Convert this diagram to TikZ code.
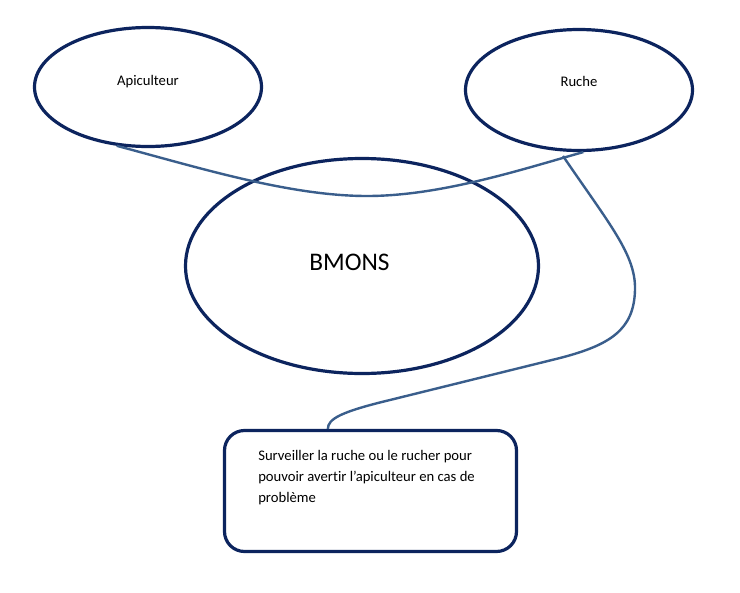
\documentclass[tikz,border=0pt]{standalone}
\usepackage{fontspec}
\setmainfont{Carlito}[Ligatures=NoCommon]
\usetikzlibrary{shapes, calc}

\definecolor{ovalblue}{RGB}{12,36,94}
\definecolor{linkblue}{RGB}{58,94,140}

\begin{document}
\begin{tikzpicture}[x=0.75pt,y=-0.75pt,draw=ovalblue]
	\tikzstyle{oval}=[ellipse,draw=ovalblue,line width=2.4pt,inner sep=0pt]
	\tikzstyle{bubble}=[rectangle,rounded corners=15pt,draw=ovalblue,line width=2.4pt]
	\tikzstyle{annot}=[font=\fontsize{11}{15.75}\selectfont,align=left,inner sep=0pt]
	\tikzstyle{link}=[draw=linkblue,line width=1.8pt]
	\useasboundingbox[fill=white] (0,0) rectangle (740,593);
	% actors
	\node[oval,minimum width=170.25pt,minimum height=89.25pt,label={[annot,yshift=4.1pt]center:Apiculteur}] (api) at (148,87) {};
	\node[oval,minimum width=170.25pt,minimum height=90.75pt,label={[annot,yshift=6.75pt]center:Ruche}] (rch) at (579,90) {};
	% system
	\node[oval,minimum width=264.75pt,minimum height=161.25pt,label={[annot,font=\fontsize{19}{23}\selectfont,xshift=-9.4pt,yshift=3pt]center:BMONS}] (bmons) at (362,266) {};
	% goal
	\node[bubble,minimum width=219pt,minimum height=90.75pt] (goal) at (370.5,491) {};
	\node[annot,anchor=north west] (goal-text) at (258,450.5) {Surveiller la ruche ou le rucher pour\\pouvoir avertir l’apiculteur en cas de\\problème};
	
	% links
	\coordinate (fork) at (563,156);
	\draw[link] (api.-118) .. controls (200,168) and (290,196) .. (367,196)
		.. controls (440,196) and (520,170) .. (rch.-86);
	\draw[link] (fork) .. controls (610,225) and (636,255) .. (635,290)
		.. controls (634,330) and (610,345) .. (560,358)
		-- (390,400)
		.. controls (340,412) and (328,419) .. ([xshift=-32pt]goal.north);
\end{tikzpicture}
\end{document}
